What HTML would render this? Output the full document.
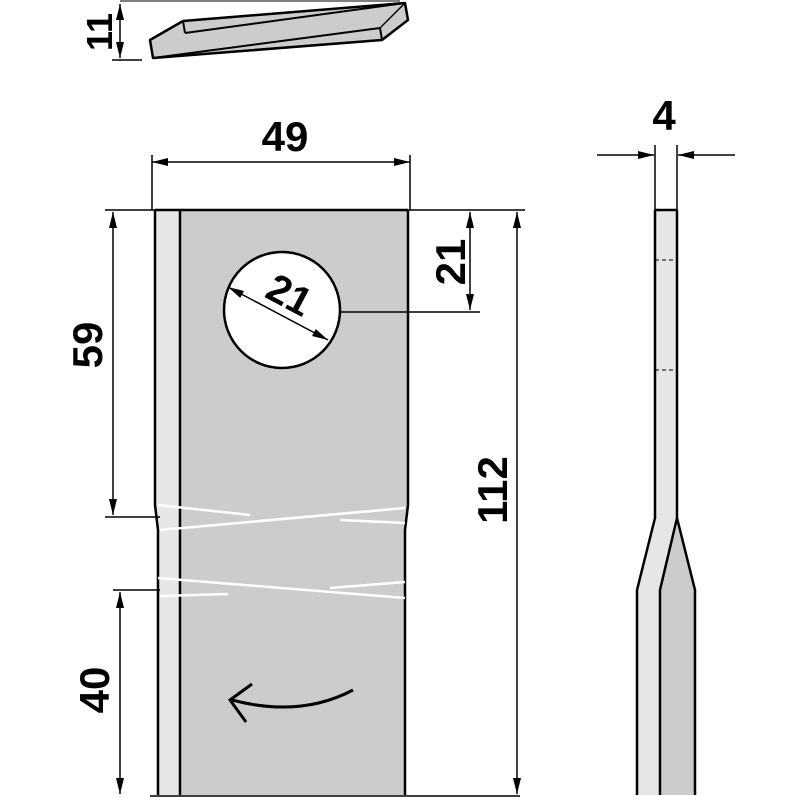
<!DOCTYPE html>
<html><head><style>html,body{margin:0;padding:0;background:#fff}</style></head><body>
<svg width="800" height="800" viewBox="0 0 800 800" xmlns="http://www.w3.org/2000/svg" font-family="Liberation Sans, Arial, sans-serif">
<defs>
<marker id="b" viewBox="0 0 16 10" refX="16" refY="5" markerWidth="16" markerHeight="10" orient="auto-start-reverse" markerUnits="userSpaceOnUse"><path d="M0,1 L16,5 L0,9 z" fill="#000"/></marker>
</defs>
<!-- top 3D plate -->
<polygon points="150,40 183,21 405,3 408,20 382,40 153,58" fill="#ccc" stroke="#000" stroke-width="2.5" stroke-linejoin="round"/>
<line x1="183" y1="21" x2="185" y2="33" stroke="#000" stroke-width="2"/>
<line x1="185" y1="33" x2="405" y2="3" stroke="#000" stroke-width="2"/>
<line x1="153" y1="58" x2="380" y2="28" stroke="#000" stroke-width="2"/>
<line x1="380" y1="28" x2="382" y2="40" stroke="#000" stroke-width="2"/>
<line x1="380" y1="28" x2="405" y2="3" stroke="#000" stroke-width="1.5"/>
<line x1="120" y1="1" x2="400" y2="1" stroke="#555" stroke-width="1.5"/>
<!-- 11 dim -->
<line x1="120" y1="4" x2="120" y2="58" stroke="#000" stroke-width="1.5" marker-start="url(#b)" marker-end="url(#b)"/>
<line x1="112" y1="60" x2="142" y2="60" stroke="#000" stroke-width="1.5"/>
<text transform="translate(112,32) rotate(-90)" font-size="36" font-weight="bold" text-anchor="middle">11</text>

<!-- main blade -->
<polygon points="155,210 180,210 180,795 158,795 158,530 155,505" fill="#e6e6e6"/>
<polygon points="180,210 408,210 408,505 405,530 405,795 180,795" fill="#ccc"/>
<path d="M155,210 L155,505 L158,530 L158,795 M180,210 L180,795 M408,210 L408,505 L405,530 L405,795 M155,210 L408,210" fill="none" stroke="#000" stroke-width="2.5"/>
<line x1="150" y1="796" x2="520" y2="796" stroke="#000" stroke-width="1.5"/>
<g stroke="#fff" stroke-width="2.5">
<line x1="158" y1="505" x2="250" y2="515"/><line x1="160" y1="530" x2="405" y2="508"/><line x1="340" y1="520" x2="405" y2="523"/>
<line x1="158" y1="578" x2="405" y2="598"/><line x1="160" y1="596" x2="228" y2="594"/><line x1="330" y1="588" x2="405" y2="582"/>
</g>
<circle cx="282" cy="310" r="58" fill="#fff" stroke="#000" stroke-width="2.5"/>
<line x1="228" y1="287" x2="328" y2="340" stroke="#000" stroke-width="1.5" marker-start="url(#b)" marker-end="url(#b)"/>
<text transform="translate(283,307) rotate(28)" font-size="40" font-weight="bold" text-anchor="middle">21</text>
<!-- arrow -->
<path d="M353,690 Q300,718 232,700" fill="none" stroke="#000" stroke-width="3"/>
<path d="M252,684 L230,700 L246,722" fill="none" stroke="#000" stroke-width="3"/>

<!-- 49 -->
<line x1="152" y1="155" x2="152" y2="210" stroke="#000" stroke-width="1.5"/>
<line x1="410" y1="155" x2="410" y2="210" stroke="#000" stroke-width="1.5"/>
<line x1="152" y1="162" x2="410" y2="162" stroke="#000" stroke-width="1.5" marker-start="url(#b)" marker-end="url(#b)"/>
<text x="285" y="151" font-size="42" font-weight="bold" text-anchor="middle">49</text>
<!-- 59 -->
<line x1="105" y1="210" x2="155" y2="210" stroke="#000" stroke-width="1.5"/>
<line x1="105" y1="517" x2="160" y2="517" stroke="#000" stroke-width="1.5"/>
<line x1="113" y1="212" x2="113" y2="515" stroke="#000" stroke-width="1.5" marker-start="url(#b)" marker-end="url(#b)"/>
<text transform="translate(102,345) rotate(-90)" font-size="42" font-weight="bold" text-anchor="middle">59</text>
<!-- 40 -->
<line x1="113" y1="590" x2="160" y2="590" stroke="#000" stroke-width="1.5"/>
<line x1="120" y1="592" x2="120" y2="794" stroke="#000" stroke-width="1.5" marker-start="url(#b)" marker-end="url(#b)"/>
<text transform="translate(109,690) rotate(-90)" font-size="42" font-weight="bold" text-anchor="middle">40</text>
<!-- 112 -->
<line x1="408" y1="210" x2="525" y2="210" stroke="#000" stroke-width="1.5"/>
<line x1="517" y1="212" x2="517" y2="794" stroke="#000" stroke-width="1.5" marker-start="url(#b)" marker-end="url(#b)"/>
<text transform="translate(507,490) rotate(-90)" font-size="42" font-weight="bold" text-anchor="middle">112</text>
<!-- 21 right -->
<line x1="340" y1="312" x2="480" y2="312" stroke="#000" stroke-width="1.5"/>
<line x1="470" y1="212" x2="470" y2="310" stroke="#000" stroke-width="1.5" marker-start="url(#b)" marker-end="url(#b)"/>
<text transform="translate(465,262) rotate(-90)" font-size="42" font-weight="bold" text-anchor="middle">21</text>

<!-- side view -->
<polygon points="655,210 677,210 677,518 695,590 695,795 637,795 637,590 655,518" fill="#e6e6e6"/>
<polygon points="677,518 695,590 695,795 660,795 660,590" fill="#ccc"/>
<path d="M655,210 L677,210 M655,210 L655,518 L637,590 L637,795 M677,210 L677,518 L695,590 L695,795 M677,518 L660,590 L660,795" fill="none" stroke="#000" stroke-width="2.5" stroke-linejoin="round"/>
<line x1="655" y1="260" x2="677" y2="260" stroke="#000" stroke-width="1" stroke-dasharray="4,3"/>
<line x1="655" y1="370" x2="677" y2="370" stroke="#000" stroke-width="1" stroke-dasharray="4,3"/>
<line x1="655" y1="145" x2="655" y2="210" stroke="#000" stroke-width="1.5"/>
<line x1="677" y1="145" x2="677" y2="210" stroke="#000" stroke-width="1.5"/>
<line x1="597" y1="155" x2="654" y2="155" stroke="#000" stroke-width="1.5" marker-end="url(#b)"/>
<line x1="735" y1="155" x2="678" y2="155" stroke="#000" stroke-width="1.5" marker-end="url(#b)"/>
<text x="664" y="130" font-size="42" font-weight="bold" text-anchor="middle">4</text>
</svg>
</body></html>
